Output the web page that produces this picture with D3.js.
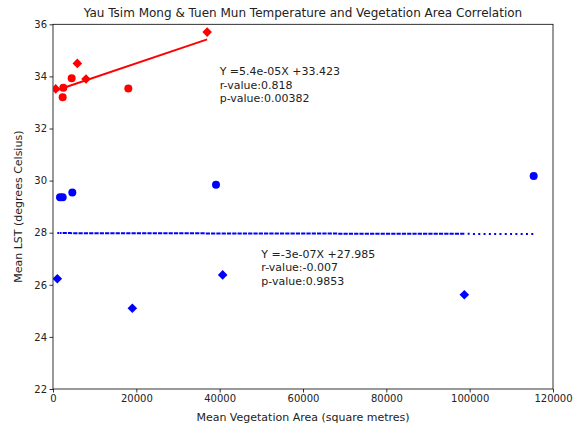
<!DOCTYPE html>
<html>
<head>
<meta charset="utf-8">
<script src="https://cdn.jsdelivr.net/npm/d3@7"></script>
<style>
  body { margin: 0; background: #fff; }
  svg text { font-family: "DejaVu Sans", sans-serif; fill: #222; }
</style>
</head>
<body>
<svg id="chart" width="582" height="430"></svg>
<script>
// Tuen Mun (red) and Yau Tsim Mong (blue) sites: [vegetation area m², mean LST °C]
const redCircles   = [[2320, 33.20], [2480, 33.56], [4480, 33.93], [18080, 33.54]];
const redDiamonds  = [[650, 33.52], [5840, 34.50], [7920, 33.90], [37000, 35.70]];
const blueDiamonds = [[1040, 26.23], [19040, 25.10], [40720, 26.38], [98720, 25.62]];
const blueCircles  = [[1680, 29.36], [2320, 29.36], [4640, 29.54], [39120, 29.84], [115360, 30.18]];

// Linear fits as reported
const redFit  = { slope: 5.4e-05, intercept: 33.423, label: ["Y =5.4e-05X +33.423", "r-value:0.818", "p-value:0.00382"], at: [40000, 33] };
const blueFit = { slope: -3e-07, intercept: 27.985, label: ["Y =-3e-07X +27.985", "r-value:-0.007", "p-value:0.9853"], at: [50000, 26] };

const xTicks = [0, 20000, 40000, 60000, 80000, 100000, 120000];
const yTicks = [22, 24, 26, 28, 30, 32, 34, 36];

const svg = d3.select("#chart");
const m = { left: 53, right: 29, top: 24.3, bottom: 41 };
const W = 582, H = 430;

const x = d3.scaleLinear().domain([0, 120000]).range([m.left, W - m.right]);
const y = d3.scaleLinear().domain([22, 36]).range([H - m.bottom, m.top]);

const defs = svg.append("defs");
defs.append("clipPath").attr("id", "plotclip")
  .append("rect").attr("x", x(0)).attr("y", y(36))
  .attr("width", x(120000) - x(0)).attr("height", y(22) - y(36));

// Axes
const xAxis = svg.append("g").attr("transform", `translate(0,${y(22)})`)
  .call(d3.axisBottom(x).tickValues(xTicks).tickFormat(d3.format("d")).tickSizeOuter(0).tickSize(3.5));
const yAxis = svg.append("g").attr("transform", `translate(${x(0)},0)`)
  .call(d3.axisLeft(y).tickValues(yTicks).tickFormat(d3.format("d")).tickSizeOuter(0).tickSize(3.5));
[xAxis, yAxis].forEach(g => {
  g.select(".domain").remove();
  g.selectAll("line").attr("stroke", "#000").attr("stroke-width", 0.8);
  g.selectAll("text").style("font-size", "10px").style("font-family", "DejaVu Sans, sans-serif").attr("fill", "#222");
});
xAxis.selectAll("text").attr("dy", "0.71em").attr("y", 5.5);
yAxis.selectAll("text").attr("x", -6);

// Frame
svg.append("rect").attr("x", x(0)).attr("y", y(36))
  .attr("width", x(120000) - x(0)).attr("height", y(22) - y(36))
  .attr("fill", "none").attr("stroke", "#000").attr("stroke-width", 0.8);

const plot = svg.append("g").attr("clip-path", "url(#plotclip)");

// Regression lines
const redXs = redCircles.concat(redDiamonds).map(d => d[0]);
plot.append("line")
  .attr("x1", x(d3.min(redXs))).attr("y1", y(redFit.intercept + redFit.slope * d3.min(redXs)))
  .attr("x2", x(d3.max(redXs))).attr("y2", y(redFit.intercept + redFit.slope * d3.max(redXs)))
  .attr("stroke", "red").attr("stroke-width", 2);

const blueXs = blueDiamonds.concat(blueCircles).map(d => d[0]);
const blueLine = d3.line().x(v => x(v)).y(v => y(blueFit.intercept + blueFit.slope * v));
plot.append("path").attr("d", blueLine(blueXs))
  .attr("fill", "none").attr("stroke", "blue").attr("stroke-width", 2)
  .attr("stroke-dasharray", "2,3.3");

// Markers
const diamond = (cx, cy, r) => `M${cx},${cy - r}L${cx + r},${cy}L${cx},${cy + r}L${cx - r},${cy}Z`;
function drawCircles(data, color) {
  plot.selectAll(null).data(data).enter().append("circle")
    .attr("cx", d => x(d[0])).attr("cy", d => y(d[1])).attr("r", 4).attr("fill", color);
}
function drawDiamonds(data, color) {
  plot.selectAll(null).data(data).enter().append("path")
    .attr("d", d => diamond(x(d[0]), y(d[1]), 4.8)).attr("fill", color);
}
drawCircles(redCircles, "red");
drawDiamonds(redDiamonds, "red");
drawCircles(blueCircles, "blue");
drawDiamonds(blueDiamonds, "blue");

// Fit annotations (anchored at the baseline of the last line)
const lineGap = 13.6;
[redFit, blueFit].forEach(f => {
  const t = svg.append("text").style("font-size", "11px")
    .attr("x", x(f.at[0])).attr("y", y(f.at[1]));
  f.label.forEach((s, i) => {
    t.append("tspan").attr("x", x(f.at[0]))
      .attr("dy", i === 0 ? -(f.label.length - 1) * lineGap : lineGap).text(s);
  });
});

// Title and axis labels
svg.append("text").attr("x", (x(0) + x(120000)) / 2).attr("y", 17)
  .attr("text-anchor", "middle").style("font-size", "12px")
  .text("Yau Tsim Mong & Tuen Mun Temperature and Vegetation Area Correlation");
svg.append("text").attr("x", (x(0) + x(120000)) / 2).attr("y", 421)
  .attr("text-anchor", "middle").style("font-size", "11px")
  .text("Mean Vegetation Area (square metres)");
svg.append("text").attr("transform", `translate(22,${(y(22) + y(36)) / 2}) rotate(-90)`)
  .attr("text-anchor", "middle").style("font-size", "11px")
  .text("Mean LST (degrees Celsius)");
</script>
</body>
</html>
